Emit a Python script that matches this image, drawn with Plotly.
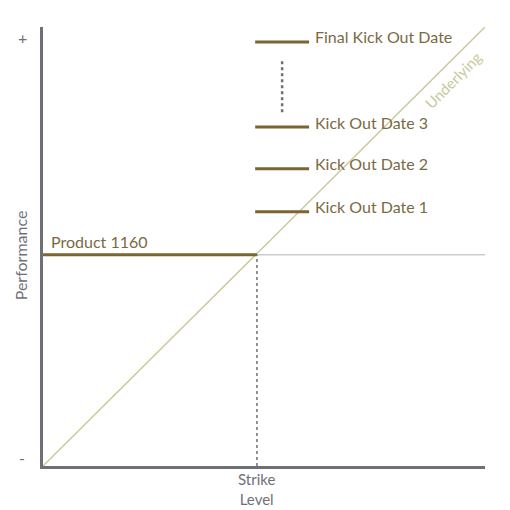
import plotly.graph_objects as go

# data (chart units: 0..10 on both axes)
strike = 4.84
product_level = 4.81
kick_labels = ["Kick Out Date 1", "Kick Out Date 2", "Kick Out Date 3", "Final Kick Out Date"]
kick_levels = [5.79, 6.77, 7.72, 9.66]
kick_x = [4.80, 6.02]
dots_x = 5.41
dots_y = [8.06, 9.29]
underlying_x = [0, 10]
underlying_y = [0, 10]

BROWN = "#7b6530"
TEXT_BROWN = "#7a6a44"
OLIVE = "#c9c99c"
GREY = "#6f6f78"
FONT = "Lato"

fig = go.Figure()

fig.add_trace(go.Scatter(x=underlying_x, y=underlying_y, mode="lines",
                         line=dict(color=OLIVE, width=1.5), hoverinfo="skip"))
fig.add_trace(go.Scatter(x=[strike, 10], y=[product_level, product_level], mode="lines",
                         line=dict(color="#b4b4ba", width=1), hoverinfo="skip"))
fig.add_trace(go.Scatter(x=[0, strike], y=[product_level, product_level], mode="lines",
                         line=dict(color=BROWN, width=3), hoverinfo="skip"))
fig.add_trace(go.Scatter(x=[strike, strike], y=[0, product_level], mode="lines",
                         line=dict(color=GREY, width=1.5, dash="dot"), hoverinfo="skip"))
for lvl in kick_levels:
    fig.add_trace(go.Scatter(x=kick_x, y=[lvl, lvl], mode="lines",
                             line=dict(color=BROWN, width=3), hoverinfo="skip"))
fig.add_trace(go.Scatter(x=[dots_x, dots_x], y=dots_y, mode="lines",
                         line=dict(color=GREY, width=2.5, dash="dot"), hoverinfo="skip"))

ann = []
for lab, lvl in zip(kick_labels, kick_levels):
    ann.append(dict(x=kick_x[1], y=lvl, text=lab, xanchor="left", yanchor="middle",
                    xshift=4, yshift=5, showarrow=False,
                    font=dict(family=FONT, size=16, color=TEXT_BROWN)))
ann.append(dict(x=0, y=product_level, text="Product 1160", xanchor="left", yanchor="bottom",
                xshift=6, yshift=2, showarrow=False,
                font=dict(family=FONT, size=16, color=TEXT_BROWN)))
ann.append(dict(x=9.21, y=8.86, text="Underlying", xanchor="center", yanchor="middle",
                textangle=-45, showarrow=False, xshift=3, yshift=-3,
                font=dict(family=FONT, size=15, color=OLIVE)))
ann.append(dict(x=0, y=1, xref="paper", yref="paper", text="+", showarrow=False,
                xanchor="center", yanchor="middle", xshift=-21, yshift=-10,
                font=dict(family=FONT, size=16, color=GREY)))
ann.append(dict(x=0, y=0, xref="paper", yref="paper", text="-", showarrow=False,
                xanchor="center", yanchor="middle", xshift=-21, yshift=9,
                font=dict(family=FONT, size=16, color=GREY)))
ann.append(dict(x=0, y=0.48, xref="paper", yref="paper", text="Performance", showarrow=False,
                textangle=-90, xanchor="center", yanchor="middle", xshift=-23,
                font=dict(family=FONT, size=16, color=GREY)))
ann.append(dict(x=strike, y=0, yref="y", text="Strike<br>Level", showarrow=False,
                xanchor="center", yanchor="top", yshift=-2,
                font=dict(family=FONT, size=15, color=GREY)))

# page is shown with an 8px body margin, so the figure is 8px smaller and offset
fig.update_layout(
    width=502, height=502,
    margin=dict(l=35, r=25, t=19, b=44),
    paper_bgcolor="white", plot_bgcolor="white",
    showlegend=False,
    annotations=ann,
    xaxis=dict(range=[0, 10], showgrid=False, zeroline=False, showticklabels=False,
               ticks="", showline=True, linecolor=GREY, linewidth=3),
    yaxis=dict(range=[0, 10], showgrid=False, zeroline=False, showticklabels=False,
               ticks="", showline=True, linecolor=GREY, linewidth=3),
)

fig.write_html("out.html")
